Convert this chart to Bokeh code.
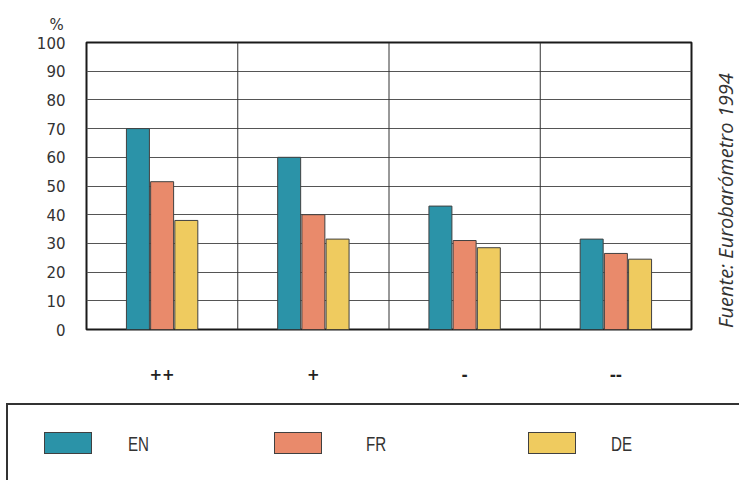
from bokeh.plotting import figure
from bokeh.models import (ColumnDataSource, FactorRange, Range1d, FixedTicker,
                          Span, Div)
from bokeh.layouts import column, row
from bokeh.transform import dodge
from bokeh.embed import file_html
from bokeh.resources import INLINE

# ---- data ----
categories = ["++", "+", "-", "--"]
series = ["EN", "FR", "DE"]
en_values = [70, 60, 43, 31.5]
fr_values = [51.5, 40, 31, 26.5]
de_values = [38, 31.5, 28.5, 24.5]
y_ticks = [0, 10, 20, 30, 40, 50, 60, 70, 80, 90, 100]
y_unit = "%"
source_note = "Fuente: Eurobarómetro 1994"

# ---- styles ----
colors = {"EN": "#2b93a8", "FR": "#e98a6b", "DE": "#efcb5f"}
offsets = {"EN": -0.16, "FR": 0.0, "DE": 0.16}
bar_width = 0.152
TICK_FONT = "DejaVu Sans"
LEG_FONT = "'Liberation Sans', sans-serif"

src = ColumnDataSource(dict(cat=categories, EN=en_values, FR=fr_values, DE=de_values))

p = figure(x_range=FactorRange(*categories), y_range=Range1d(0, 100),
           width=713, height=403, output_backend="svg", toolbar_location=None,
           min_border_left=86, min_border_right=22, min_border_top=42,
           min_border_bottom=74, title=y_unit)

for s in series:
    p.vbar(x=dodge("cat", offsets[s], range=p.x_range), top=s,
           width=bar_width, source=src, fill_color=colors[s],
           line_color="#404040", line_width=1)

# title used as the unit label "%"
p.title.align = "left"
p.title.offset = -37
p.title.standoff = 18
p.title.text_font = TICK_FONT
p.title.text_font_style = "normal"
p.title.text_font_size = "15px"
p.title.text_color = "#333333"

# grid
p.xgrid.visible = False
p.ygrid.ticker = FixedTicker(ticks=y_ticks)
p.ygrid.grid_line_color = "#555555"
p.ygrid.grid_line_width = 1
for i in range(1, len(categories)):
    p.add_layout(Span(location=i, dimension="height", line_color="#333333", line_width=1))

p.outline_line_color = "#1a1a1a"
p.outline_line_width = 2
p.outline_line_alpha = 1

# axes
for ax in (p.xaxis[0], p.yaxis[0]):
    ax.axis_line_color = None
    ax.major_tick_line_color = None
    ax.minor_tick_line_color = None
    ax.major_tick_out = 0
    ax.major_tick_in = 0
    ax.minor_tick_out = 0
    ax.minor_tick_in = 0

p.xaxis.major_label_standoff = 38
p.xaxis.major_label_text_font = TICK_FONT
p.xaxis.major_label_text_font_style = "bold"
p.xaxis.major_label_text_font_size = "15px"
p.xaxis.major_label_text_color = "#222222"

p.yaxis.ticker = FixedTicker(ticks=y_ticks)
p.yaxis.major_label_standoff = 21
p.yaxis.major_label_text_font = TICK_FONT
p.yaxis.major_label_text_font_size = "15px"
p.yaxis.major_label_text_color = "#333333"

# ---- vertical source note to the right of the chart ----
note_html = ('<div style="position:relative;width:26px;height:403px;overflow:hidden;'
             'background:white;">'
             '<div style="position:absolute;left:3px;top:328px;transform-origin:0 0;'
             'transform:rotate(-90deg);white-space:nowrap;line-height:20px;'
             "font-family:'Open Sans',sans-serif;font-style:italic;font-size:20px;"
             'color:#333;">%s</div></div>' % source_note)
note_div = Div(text=note_html, width=26, height=403, styles={"margin": "0", "padding": "0"})

# ---- legend panel (box with top/left edges, running off the page) ----
swatch_left = {"EN": 44, "FR": 274, "DE": 528}
label_left = {"EN": 128, "FR": 366, "DE": 611}
parts = ['<div style="position:relative;width:739px;height:77px;overflow:hidden;'
         'background:white;margin:0;padding:0;">',
         '<div style="position:absolute;left:6px;top:0px;width:800px;height:120px;'
         'border-top:2px solid #333;border-left:2px solid #333;"></div>']
for s in series:
    parts.append('<div style="position:absolute;left:%dpx;top:29px;width:48px;height:22px;'
                 'background:%s;border:1px solid #404040;"></div>' % (swatch_left[s], colors[s]))
    parts.append('<div style="position:absolute;left:%dpx;top:27px;height:28px;line-height:28px;'
                 'font-family:%s;font-size:21px;color:#333;transform:scaleX(0.72);'
                 'transform-origin:0 50%%;">%s</div>'
                 % (label_left[s], LEG_FONT, s))
parts.append('</div>')
legend_div = Div(text="".join(parts), width=739, height=77,
                 styles={"margin": "0", "padding": "0"})

layout = column(row(p, note_div, spacing=0), legend_div, spacing=0)
open("out.html", "w").write(file_html(layout, INLINE))
